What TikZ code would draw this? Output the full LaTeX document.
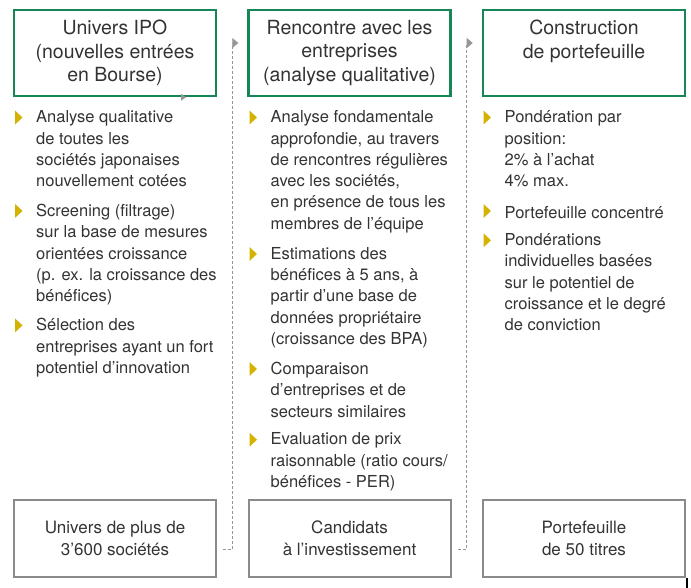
\documentclass[tikz,border=0pt]{standalone}
\usepackage{fontspec}
\setmainfont{TeX Gyre Heros}
\usetikzlibrary{calc,arrows.meta}
\definecolor{boxgreen}{RGB}{22,134,86}
\definecolor{boxgray}{RGB}{138,138,138}
\definecolor{bulgold}{RGB}{212,178,0}
\definecolor{txt}{RGB}{51,51,51}
\definecolor{sepgray}{RGB}{150,150,150}
\tikzset{
  headbox/.style={draw=boxgreen,line width=2.5pt,minimum width=202pt,minimum height=86pt,inner sep=0pt},
  headtext/.style={anchor=north,align=center,inner sep=0pt,text=txt,font=\fontsize{19.5}{23.3}\selectfont,execute at begin node={\rule{0pt}{18pt}}},
  footbox/.style={draw=boxgray,line width=2pt,minimum width=202pt,minimum height=77pt,align=center,text=txt,font=\fontsize{17}{22.5}\selectfont},
  item/.style={anchor=north west,align=left,inner sep=0pt,text=txt,font=\fontsize{16.5}{21.3}\selectfont,execute at begin node={\rule{0pt}{14pt}}},
  sepline/.style={draw=sepgray,line width=0.9pt,dash pattern=on 3pt off 2pt},
}
\begin{document}
\begin{tikzpicture}[x=1pt,y=-1pt]
\useasboundingbox (0,0) rectangle (691,587);
% Head boxes
\node (h1)[headbox] at (115,53) {};
\node (h2)[headbox] at (349.5,53) {};
\node (h3)[headbox] at (584,53) {};
\node (h1t)[headtext] at ($(h1.north)+(0,11.25)$) {Univers IPO\\(nouvelles entrées\\en Bourse)};
\node (h2t)[headtext] at ($(h2.north)+(0,11.25)$) {Rencontre avec les\\entreprises\\(analyse qualitative)};
\node (h3t)[headtext] at ($(h3.north)+(0,11.25)$) {Construction\\de portefeuille};
% Items left
\node (a1)[item] at (36,110.5) {Analyse qualitative\\de toutes les\\sociétés japonaises\\nouvellement cotées};
\node (a2)[item] at (36,203.9) {Screening (filtrage)\\sur la base de mesures\\orientées croissance\\(p. ex. la croissance des\\bénéfices)};
\node (a3)[item] at (36,318.4) {Sélection des\\entreprises ayant un fort\\potentiel d’innovation};
% Items middle
\node (b1)[item] at (270.5,110.5) {Analyse fondamentale\\approfondie, au travers\\de rencontres régulières\\avec les sociétés,\\en présence de tous les\\membres de l’équipe};
\node (b2)[item] at (270.5,247) {Estimations des\\bénéfices à 5 ans, à\\partir d’une base de\\données propriétaire\\(croissance des BPA)};
\node (b3)[item] at (270.5,362) {Comparaison\\d’entreprises et de\\secteurs similaires};
\node (b4)[item] at (270.5,432.7) {Evaluation de prix\\raisonnable (ratio cours/\\bénéfices - PER)};
% Items right
\node (c1)[item] at (504.5,110.5) {Pondération par\\position:\\2\% à l’achat\\4\% max.};
\node (c2)[item] at (504.5,204) {Portefeuille concentré};
\node (c3)[item] at (504.5,233.3) {Pondérations\\individuelles basées\\sur le potentiel de\\croissance et le degré\\de conviction};
% Bullets
\foreach \n in {a1,a2,a3,b1,b2,b3,b4,c1,c2,c3}
  \fill[bulgold] ($(\n.north west)+(-21,0)$) -- ++(7.5,7) -- ++(-7.5,7) -- cycle;
% Foot boxes
\node (p1)[footbox] at (115,538.5) {Univers de plus de\\3’600 sociétés};
\node (p2)[footbox] at (349.5,538.5) {Candidats\\à l’investissement};
\node (p3)[footbox] at (584,538.5) {Portefeuille\\de 50 titres};
% Separators
\coordinate (s1b) at (222.5,549);
\coordinate (s1t) at (232.3,43);
\coordinate (s2b) at (458,549);
\coordinate (s2t) at (466.7,43);
\draw[sepline,-{Triangle[width=10pt,length=6pt]}] (s1b) -| (s1t) -- ++(6,0);
\draw[sepline,-{Triangle[width=10pt,length=6pt]}] (s2b) -| (s2t) -- ++(6,0);
\fill[sepgray] ($(h1.south)+(66,-3.5)$) -- ++(5,3.5) -- ++(-5,3.5) -- cycle;
\draw[black,line width=1.5pt] ($(p3.south east)+(1,0)$) -- ++(0,10);
\end{tikzpicture}
\end{document}
